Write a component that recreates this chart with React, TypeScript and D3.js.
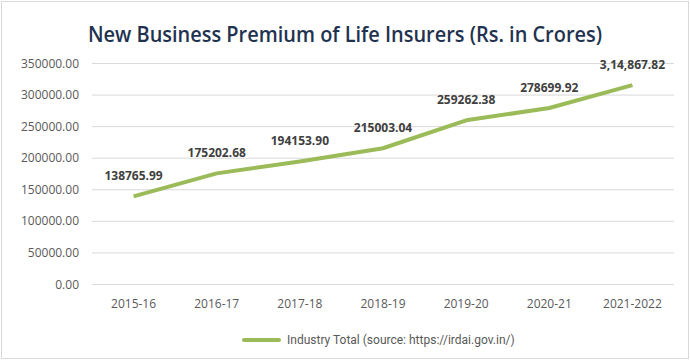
import React, { useEffect, useRef } from 'react';
import * as d3 from 'd3';

const years = ['2015-16', '2016-17', '2017-18', '2018-19', '2019-20', '2020-21', '2021-2022'];
const premium = [138765.99, 175202.68, 194153.9, 215003.04, 259262.38, 278699.92, 314867.82];
const valueLabels = ['138765.99', '175202.68', '194153.90', '215003.04', '259262.38', '278699.92', '3,14,867.82'];
const yTicks = [0, 50000, 100000, 150000, 200000, 250000, 300000, 350000];

const App: React.FC = () => {
  const svgRef = useRef<SVGSVGElement>(null);

  useEffect(() => {
    if (!svgRef.current) return;
    const svg = d3.select(svgRef.current);
    svg.selectAll('*').remove();

    const width = 690;
    const height = 361;
    const left = 92, right = 674, top = 63, bottom = 284;

    // frame
    svg.append('rect')
      .attr('x', 1.5).attr('y', 1.5)
      .attr('width', width - 3).attr('height', height - 4)
      .attr('fill', '#fff')
      .attr('stroke', '#d9d9d9');

    svg.append('text')
      .attr('x', 345).attr('y', 42)
      .attr('text-anchor', 'middle')
      .attr('textLength', 514)
      .attr('lengthAdjust', 'spacingAndGlyphs')
      .style('font-family', '"Open Sans", sans-serif')
      .style('font-weight', 600)
      .style('font-size', '21px')
      .attr('fill', '#1f3350')
      .text('New Business Premium of Life Insurers (Rs. in Crores)');

    const x = d3.scaleBand().domain(years).range([left, right]);
    const y = d3.scaleLinear().domain([0, 350000]).range([bottom, top]);

    // gridlines
    svg.append('g').selectAll('line')
      .data(yTicks)
      .join('line')
      .attr('x1', left).attr('x2', right)
      .attr('y1', d => y(d) + 0.5).attr('y2', d => y(d) + 0.5)
      .attr('stroke', '#d9d9d9');

    svg.append('g').selectAll('text')
      .data(yTicks)
      .join('text')
      .attr('x', 79).attr('y', d => y(d) + 4.5)
      .attr('text-anchor', 'end')
      .style('font-family', '"Open Sans", sans-serif')
      .style('font-size', '12px')
      .attr('fill', '#595959')
      .text(d => d.toFixed(2));

    svg.append('g').selectAll('text')
      .data(years)
      .join('text')
      .attr('x', d => x(d)! + x.bandwidth() / 2)
      .attr('y', 308)
      .attr('text-anchor', 'middle')
      .style('font-family', '"Open Sans", sans-serif')
      .style('font-size', '12px')
      .attr('fill', '#595959')
      .text(d => d);

    const cx = (i: number) => x(years[i])! + x.bandwidth() / 2;

    const line = d3.line<number>()
      .x((d, i) => cx(i))
      .y(d => y(d));

    svg.append('path')
      .datum(premium)
      .attr('d', line)
      .attr('fill', 'none')
      .attr('stroke', '#9bbb59')
      .attr('stroke-width', 4)
      .attr('stroke-linejoin', 'round');

    svg.append('g').selectAll('text')
      .data(premium)
      .join('text')
      .attr('x', (d, i) => cx(i))
      .attr('y', d => y(d) - 16)
      .attr('text-anchor', 'middle')
      .style('font-family', '"Open Sans", sans-serif')
      .style('font-weight', 700)
      .style('font-size', '12px')
      .attr('fill', '#404040')
      .text((d, i) => valueLabels[i]);

    // legend
    svg.append('line')
      .attr('x1', 244).attr('x2', 279)
      .attr('y1', 340).attr('y2', 340)
      .attr('stroke', '#9bbb59')
      .attr('stroke-width', 4)
      .attr('stroke-linecap', 'round');

    svg.append('text')
      .attr('x', 287).attr('y', 344)
      .style('font-family', 'Roboto, sans-serif')
      .style('font-size', '12px')
      .attr('fill', '#595959')
      .text('Industry Total (source: https://irdai.gov.in/)');
  }, []);

  return (
    <div style={{ position: 'absolute', left: 0, top: 0 }}>
      <svg ref={svgRef} width={690} height={361} style={{ display: 'block' }}></svg>
    </div>
  );
};

export default App;
